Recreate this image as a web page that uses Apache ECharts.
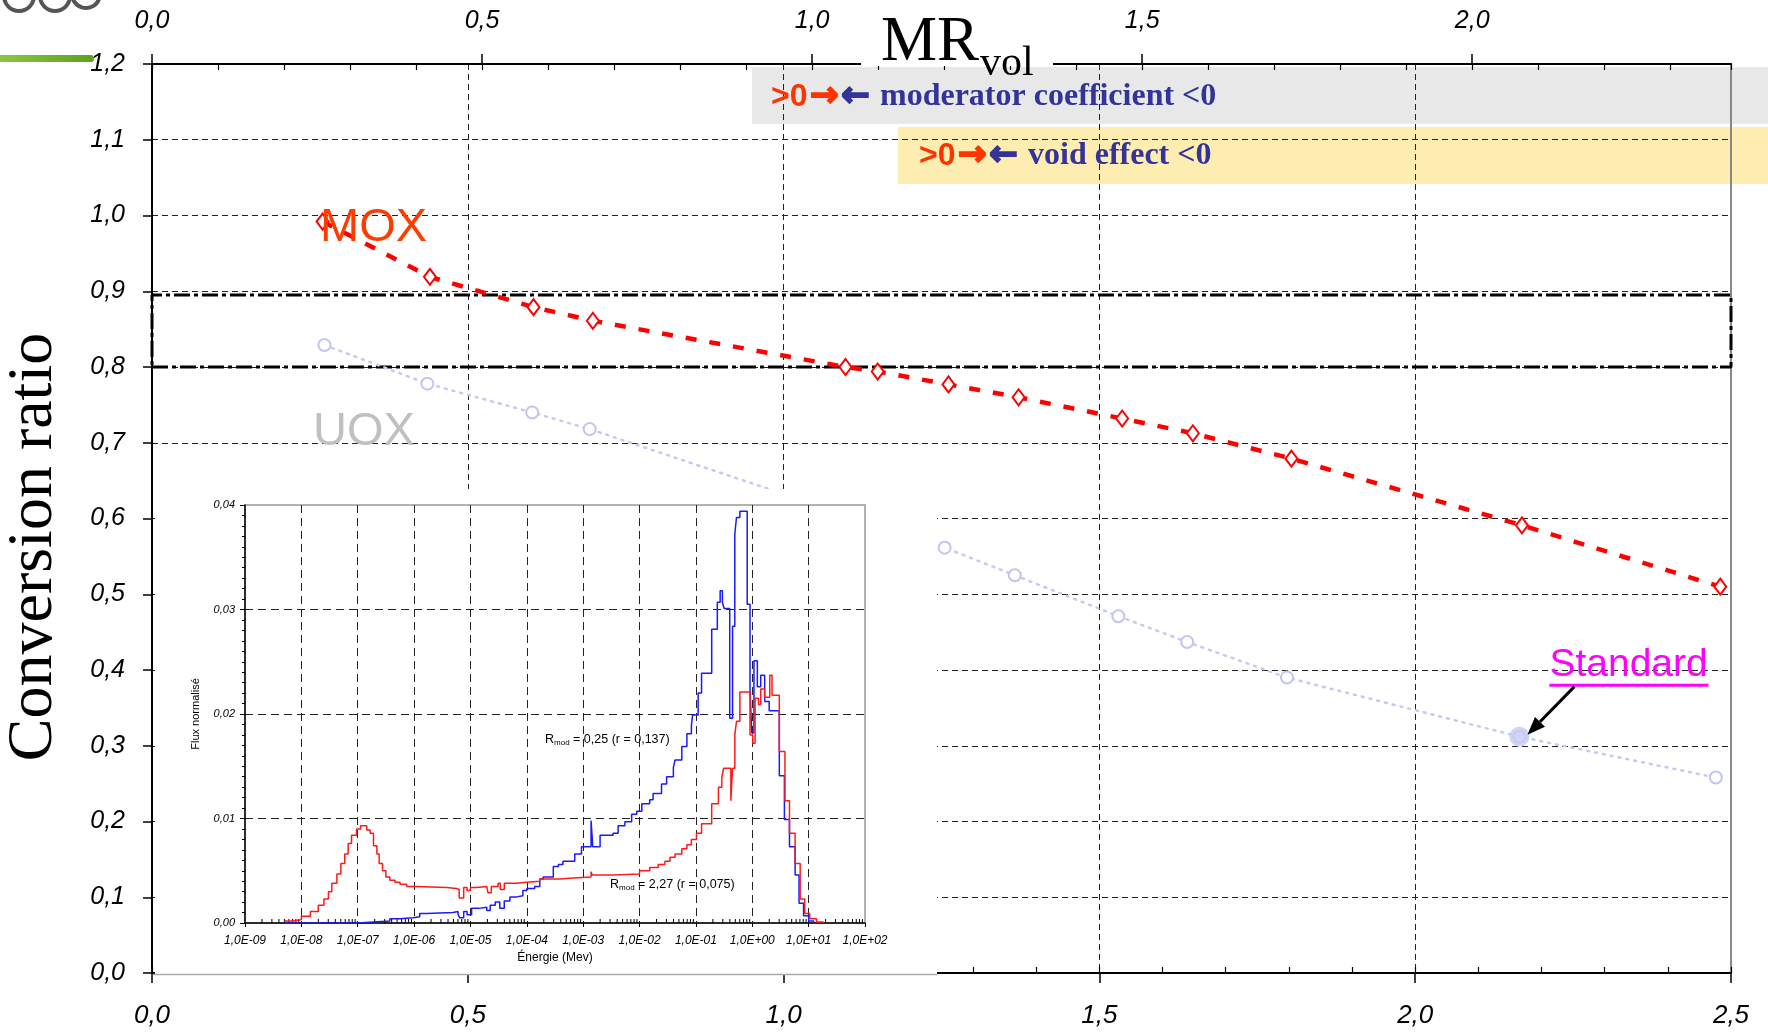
<!DOCTYPE html>
<html>
<head>
<meta charset="utf-8">
<script src="https://cdn.jsdelivr.net/npm/echarts@6/dist/echarts.min.js"></script>
<style>
  html, body { margin: 0; padding: 0; background: #fff; }
  #chart { width: 1768px; height: 1034px; }
</style>
</head>
<body>
<div id="chart"></div>
<script>
// Conversion ratio versus moderation ratio (MR vol) for MOX and UOX lattices
const moxMR = [0.27, 0.44, 0.604, 0.698, 1.098, 1.149, 1.261, 1.372, 1.536, 1.648, 1.804, 2.169, 2.483];
const moxCR = [0.992, 0.919, 0.879, 0.861, 0.800, 0.794, 0.777, 0.760, 0.732, 0.7125, 0.679, 0.591, 0.510];
const uoxMR = [0.273, 0.436, 0.602, 0.693, 1.255, 1.366, 1.530, 1.639, 1.797, 2.165, 2.476];
const uoxCR = [0.829, 0.778, 0.740, 0.718, 0.5615, 0.525, 0.471, 0.437, 0.390, 0.312, 0.258];
const standardIndex = 9;              // reference lattice on the UOX curve
const targetBand = [0.80, 0.895];     // conversion-ratio window (dash-dot frame)
const mrRange = [0, 2.5];

// Neutron spectra (inset): log10 of energy in MeV and normalised flux, step histograms
const energyDecades = [-9, -8, -7, -6, -5, -4, -3, -2, -1, 0, 1, 2];
const rmod227LogE = [-8.30,-8.15,-8.00,-7.84,-7.70,-7.60,-7.52,-7.46,-7.37,-7.30,-7.23,-7.17,-7.11,-7.02,-6.95,-6.84,-6.78,-6.72,-6.66,-6.62,-6.56,-6.50,-6.43,-6.34,-6.25,-6.13,-5.96,-5.42,-5.25,-5.20,-5.12,-5.06,-5.00,-4.89,-4.71,-4.69,-4.63,-4.51,-4.47,-4.40,-4.18,-4.00,-3.77,-3.41,-3.18,-2.86,-2.84,-2.47,-2.00,-1.82,-1.67,-1.55,-1.46,-1.37,-1.25,-1.16,-1.08,-0.99,-0.90,-0.72,-0.60,-0.54,-0.51,-0.38,-0.35,-0.31,-0.28,-0.22,-0.04,0.01,0.05,0.11,0.15,0.22,0.31,0.35,0.48,0.58,0.66,0.76,0.85,0.93,1.02,1.14,1.26];
const rmod227Flux = [0.0002,0.0003,0.00064,0.0011,0.0017,0.0023,0.0030,0.0038,0.0047,0.0057,0.0066,0.0076,0.0084,0.0090,0.0093,0.0089,0.0086,0.0074,0.0066,0.0057,0.0050,0.0044,0.0041,0.0039,0.0037,0.0035,0.0034,0.0033,0.0032,0.0024,0.0034,0.0031,0.0034,0.0035,0.0034,0.0029,0.0035,0.0038,0.0032,0.0038,0.0039,0.0040,0.0042,0.0043,0.0044,0.0049,0.0046,0.0047,0.0050,0.0053,0.0056,0.0059,0.0063,0.0066,0.0071,0.0075,0.0080,0.0086,0.0095,0.0114,0.0130,0.0139,0.0148,0.0117,0.0148,0.0180,0.0193,0.0221,0.0180,0.0172,0.0215,0.0209,0.0224,0.0216,0.0237,0.0218,0.0164,0.0117,0.0086,0.0057,0.0023,0.0009,0.0004,0.0001,0];
const rmod025LogE = [-8.30,-7.00,-6.72,-6.43,-6.25,-6.02,-5.90,-5.78,-5.31,-5.22,-5.19,-5.12,-5.06,-4.98,-4.85,-4.82,-4.71,-4.65,-4.56,-4.48,-4.40,-4.30,-4.18,-4.07,-4.00,-3.86,-3.77,-3.71,-3.53,-3.44,-3.36,-3.15,-3.03,-2.86,-2.83,-2.70,-2.47,-2.38,-2.26,-2.14,-2.05,-1.96,-1.82,-1.76,-1.61,-1.52,-1.40,-1.37,-1.25,-1.16,-1.08,-1.06,-0.96,-0.90,-0.72,-0.62,-0.57,-0.53,-0.50,-0.40,-0.35,-0.31,-0.28,-0.22,-0.09,-0.04,-0.01,0.03,0.09,0.15,0.22,0.30,0.48,0.57,0.66,0.76,0.83,0.91,1.00,1.09];
const rmod025Flux = [0,0.0001,0.0002,0.0004,0.0005,0.0006,0.0009,0.0010,0.0011,0.0008,0.0005,0.0011,0.0008,0.0014,0.0013,0.0015,0.0012,0.0017,0.0020,0.0014,0.0021,0.0025,0.0026,0.0031,0.0033,0.0035,0.0042,0.0044,0.0054,0.0056,0.0059,0.0066,0.0073,0.0098,0.0073,0.0084,0.0086,0.0093,0.0097,0.0104,0.0107,0.0114,0.0118,0.0124,0.0133,0.0140,0.0149,0.0156,0.0169,0.0181,0.0189,0.0199,0.0220,0.0239,0.0281,0.0307,0.0318,0.0307,0.0301,0.0196,0.0284,0.0372,0.0388,0.0394,0.0305,0.0224,0.0182,0.0251,0.0226,0.0237,0.0212,0.0203,0.0141,0.0099,0.0073,0.0046,0.0019,0.0007,0.0002,0];

const pairs = (xs, ys) => xs.map((x, i) => [x, ys[i]]);
const comma1 = v => v.toFixed(1).replace('.', ',');
const comma2 = v => v.toFixed(2).replace('.', ',');
const sciLabel = v => {
  const e = Math.round(v);
  return '1,0E' + (e < 0 ? '-' : '+') + String(Math.abs(e)).padStart(2, '0');
};

// logarithmic minor tick positions (2..9 x 10^d) for the energy axis
const logMinor = [];
energyDecades.slice(0, -1).forEach(d => {
  for (let k = 2; k <= 9; k++) logMinor.push([d + Math.log10(k), 0]);
});

const tickFont = { fontFamily: 'Liberation Sans', fontStyle: 'italic', color: '#000' };
const gridDash = { color: '#222', width: 1, type: [6, 4] };

const chart = echarts.init(document.getElementById('chart'), null, { renderer: 'canvas' });

const option = {
  animation: false,
  backgroundColor: '#fff',
  grid: [
    { left: 152, right: 37, top: 64, bottom: 61, show: false },
    { left: 245, top: 505, width: 620, height: 418, show: true, borderColor: '#999', borderWidth: 1.5, backgroundColor: 'transparent', z: 4 }
  ],
  xAxis: [
    { // MR vol, bottom
      type: 'value', gridIndex: 0, position: 'bottom', min: mrRange[0], max: mrRange[1], interval: 0.5,
      axisLine: { onZero: false, lineStyle: { color: '#000', width: 2 } },
      axisTick: { length: 10, lineStyle: { color: '#000', width: 1.5 } },
      axisLabel: Object.assign({ fontSize: 26, margin: 30, formatter: comma1 }, tickFont),
      splitLine: { show: true, showMinLine: false, showMaxLine: false, lineStyle: gridDash }
    },
    { // bottom minor ticks
      type: 'value', gridIndex: 0, position: 'bottom', min: mrRange[0], max: mrRange[1], interval: 0.1,
      axisLine: { show: false, onZero: false }, axisLabel: { show: false }, splitLine: { show: false },
      axisTick: { inside: true, length: 6, lineStyle: { color: '#000', width: 1.2 } }
    },
    { // secondary MR scale, top
      type: 'value', gridIndex: 0, position: 'top', min: 0, max: 2.392, interval: 0.5,
      axisLine: { onZero: false, lineStyle: { color: '#000', width: 2 } },
      axisTick: { length: 10, lineStyle: { color: '#000', width: 1.5 } },
      axisLabel: Object.assign({ fontSize: 25, margin: 30, formatter: comma1, showMaxLabel: false }, tickFont),
      splitLine: { show: false }
    },
    { // top minor ticks
      type: 'value', gridIndex: 0, position: 'top', min: 0, max: 2.392, interval: 0.1,
      axisLine: { show: false, onZero: false }, axisLabel: { show: false }, splitLine: { show: false },
      axisTick: { inside: true, length: 6, lineStyle: { color: '#000', width: 1.2 } }
    },
    { // inset energy axis (log10 MeV)
      type: 'value', gridIndex: 1, min: energyDecades[0], max: energyDecades[energyDecades.length - 1], interval: 1, z: 5,
      axisLine: { onZero: false, lineStyle: { color: '#000', width: 1.5 } },
      axisTick: { length: 4, lineStyle: { color: '#000', width: 1 } },
      axisLabel: Object.assign({ fontSize: 12, margin: 12, formatter: sciLabel }, tickFont),
      splitLine: { show: true, showMinLine: false, showMaxLine: false, lineStyle: { color: '#222', width: 1, type: [8, 5] } },
      name: 'Énergie (Mev)', nameLocation: 'middle', nameGap: 29,
      nameTextStyle: { fontFamily: 'Liberation Sans', fontSize: 12, color: '#000' }
    }
  ],
  yAxis: [
    { // conversion ratio
      type: 'value', gridIndex: 0, min: 0, max: 1.2, interval: 0.1,
      axisLine: { onZero: false, lineStyle: { color: '#000', width: 2 } },
      axisTick: { length: 9, lineStyle: { color: '#000', width: 1.5 } },
      axisLabel: Object.assign({ fontSize: 25, margin: 27, formatter: comma1 }, tickFont),
      splitLine: { show: true, showMinLine: false, showMaxLine: false, lineStyle: gridDash }
    },
    { // right frame
      type: 'value', gridIndex: 0, position: 'right', min: 0, max: 1.2,
      axisLine: { show: true, onZero: false, lineStyle: { color: '#888', width: 2 } },
      axisTick: { show: false }, axisLabel: { show: false }, splitLine: { show: false }
    },
    { // inset flux
      type: 'value', gridIndex: 1, min: 0, max: 0.04, interval: 0.01, z: 5,
      axisLine: { onZero: false, lineStyle: { color: '#000', width: 1.5 } },
      axisTick: { length: 5, lineStyle: { color: '#000', width: 1 } },
      minorTick: { show: true, splitNumber: 10, length: 3, lineStyle: { color: '#000', width: 1 } },
      axisLabel: Object.assign({ fontSize: 11, margin: 10, formatter: comma2 }, tickFont),
      splitLine: { show: true, showMinLine: false, showMaxLine: false, lineStyle: { color: '#222', width: 1, type: [8, 5] } },
      name: 'Flux normalisé', nameLocation: 'middle', nameGap: 44,
      nameTextStyle: { fontFamily: 'Liberation Sans', fontSize: 11, color: '#000' }
    }
  ],
  series: [
    {
      name: 'target window', type: 'line', xAxisIndex: 0, yAxisIndex: 0, clip: false, silent: true,
      symbol: 'none',
      data: [[mrRange[0], targetBand[0]], [mrRange[1], targetBand[0]], [mrRange[1], targetBand[1]], [mrRange[0], targetBand[1]], [mrRange[0], targetBand[0]]],
      lineStyle: { color: '#000', width: 3, type: [16, 4, 4, 4] }, z: 2
    },
    {
      name: 'UOX', type: 'line', xAxisIndex: 0, yAxisIndex: 0, clip: false,
      data: pairs(uoxMR, uoxCR),
      symbol: 'emptyCircle', symbolSize: 12,
      itemStyle: { color: '#c4c4f2', borderWidth: 2 },
      lineStyle: { color: '#c8c8f4', width: 2.5, type: [2, 6], cap: 'round' }, z: 2
    },
    {
      name: 'Standard', type: 'scatter', xAxisIndex: 0, yAxisIndex: 0,
      data: [[uoxMR[standardIndex], uoxCR[standardIndex]]],
      symbol: 'circle', symbolSize: 20, itemStyle: { color: '#c8c8f4' }, z: 2
    },
    {
      name: 'MOX', type: 'line', xAxisIndex: 0, yAxisIndex: 0, clip: false,
      data: pairs(moxMR, moxCR),
      symbol: 'emptyDiamond', symbolSize: [12, 16],
      itemStyle: { color: '#ff0000', borderWidth: 2 },
      lineStyle: { color: '#ff0000', width: 4.5, type: [11, 13] }, z: 2
    },
    {
      name: 'Rmod 0,25', type: 'line', xAxisIndex: 4, yAxisIndex: 2, step: 'end',
      data: pairs(rmod025LogE, rmod025Flux), showSymbol: false, symbol: 'none',
      lineStyle: { color: '#1a1aff', width: 1.5 }, z: 6
    },
    {
      name: 'Rmod 2,27', type: 'line', xAxisIndex: 4, yAxisIndex: 2, step: 'end',
      data: pairs(rmod227LogE, rmod227Flux), showSymbol: false, symbol: 'none',
      lineStyle: { color: '#ff1a1a', width: 1.5 }, z: 6
    },
    {
      name: 'log minor ticks', type: 'custom', xAxisIndex: 4, yAxisIndex: 2, silent: true, clip: false,
      data: logMinor, z: 6,
      renderItem: (params, api) => {
        const p = api.coord([api.value(0), 0]);
        return { type: 'line', shape: { x1: p[0], y1: p[1], x2: p[0], y2: p[1] - 4 }, style: { stroke: '#000', lineWidth: 1 } };
      }
    }
  ]
};

chart.setOption(option);

// Annotations and decorations
const std = chart.convertToPixel({ xAxisIndex: 0, yAxisIndex: 0 }, [uoxMR[standardIndex], uoxCR[standardIndex]]);
const arrowFrom = [std[0] + 55, std[1] - 50];
const arrowTo = [std[0] + 8, std[1] - 2];
const ang = Math.atan2(arrowTo[1] - arrowFrom[1], arrowTo[0] - arrowFrom[0]);
const headLen = 18, headHalf = 7;
const hx = arrowTo[0] - headLen * Math.cos(ang), hy = arrowTo[1] - headLen * Math.sin(ang);
const head = [
  arrowTo,
  [hx + headHalf * Math.sin(ang), hy - headHalf * Math.cos(ang)],
  [hx - headHalf * Math.sin(ang), hy + headHalf * Math.cos(ang)]
];

const bannerRich = {
  g: { fontFamily: 'Liberation Sans', fontWeight: 'bold', fontSize: 32, fill: '#ff3300', width: 39 },
  ar: { fontFamily: 'DejaVu Sans', fontWeight: 'bold', fontSize: 34, fill: '#ff3300', stroke: '#ff3300', lineWidth: 2, width: 31 },
  ab: { fontFamily: 'DejaVu Sans', fontWeight: 'bold', fontSize: 34, fill: '#333399', stroke: '#333399', lineWidth: 2, width: 39 },
  t: { fontFamily: 'Liberation Serif', fontWeight: 'bold', fontSize: 32, fill: '#333399' }
};
const subRich = {
  r: { fontFamily: 'Liberation Sans', fontSize: 12.5, fill: '#000' },
  s: { fontFamily: 'Liberation Sans', fontSize: 8, fill: '#000', padding: [6, 0, 0, 0] }
};

chart.setOption({
  graphic: [
    // regime banners
    { type: 'rect', shape: { x: 752, y: 67, width: 1016, height: 57 }, style: { fill: '#e8e8e8' }, z: -1 },
    { type: 'rect', shape: { x: 898, y: 127, width: 870, height: 57 }, style: { fill: '#feedb0' }, z: -1 },
    { type: 'text', x: 771, y: 97, z: 10, style: { text: '{g|>0}{ar|→}{ab|←}{t|moderator coefficient <0}', rich: bannerRich, verticalAlign: 'middle' } },
    { type: 'text', x: 919, y: 156, z: 10, style: { text: '{g|>0}{ar|→}{ab|←}{t|void effect <0}', rich: bannerRich, verticalAlign: 'middle' } },
    // axis title on top
    { type: 'rect', shape: { x: 861, y: 50, width: 192, height: 16 }, style: { fill: '#fff' }, z: 9 },
    { type: 'text', x: 881, y: 43, z: 10, style: { text: 'MR', font: '63px "Liberation Serif"', fill: '#000', verticalAlign: 'middle' } },
    { type: 'text', x: 980, y: 64, z: 10, style: { text: 'vol', font: '42px "Liberation Serif"', fill: '#000', verticalAlign: 'middle' } },
    // vertical axis title
    { type: 'text', x: 34, y: 547, rotation: Math.PI / 2, z: 10, style: { text: 'Conversion ratio', font: '64px "Liberation Serif"', fill: '#000', align: 'center', verticalAlign: 'middle' } },
    // curve labels
    { type: 'text', x: 320, y: 228, z: 10, style: { text: 'MOX', font: '47px "Liberation Sans"', fill: '#ff3c00', verticalAlign: 'middle' } },
    { type: 'text', x: 313, y: 432, z: 10, style: { text: 'UOX', font: '47px "Liberation Sans"', fill: '#c0c0c0', verticalAlign: 'middle' } },
    // standard lattice callout
    { type: 'text', x: std[0] + 30, y: std[1] - 71, z: 10, style: { text: 'Standard', font: '39px "Liberation Sans"', fill: '#ff00ff', verticalAlign: 'middle' } },
    { type: 'rect', shape: { x: std[0] + 30, y: std[1] - 53, width: 159, height: 3 }, style: { fill: '#ff00ff' }, z: 10 },
    { type: 'line', shape: { x1: arrowFrom[0], y1: arrowFrom[1], x2: hx, y2: hy }, style: { stroke: '#000', lineWidth: 3 }, z: 10 },
    { type: 'polygon', shape: { points: head }, style: { fill: '#000' }, z: 10 },
    // inset panel background
    { type: 'rect', shape: { x: 155, y: 489, width: 782, height: 485 }, style: { fill: '#fff' }, z: 3 },
    { type: 'line', shape: { x1: 153, y1: 974.5, x2: 937, y2: 974.5 }, style: { stroke: '#aaa', lineWidth: 1.5 }, z: 3 },
    { type: 'text', x: 545, y: 740, z: 7, style: { text: '{r|R}{s|mod}{r| = 0,25 (r = 0,137)}', rich: subRich, verticalAlign: 'middle' } },
    { type: 'text', x: 610, y: 885, z: 7, style: { text: '{r|R}{s|mod}{r| = 2,27 (r = 0,075)}', rich: subRich, verticalAlign: 'middle' } },
    // logo fragment, top left
    { type: 'rect', shape: { x: 0, y: 55, width: 94, height: 7, r: [0, 3, 3, 0] },
      style: { fill: new echarts.graphic.LinearGradient(0, 0, 1, 0, [{ offset: 0, color: '#8cc63f' }, { offset: 1, color: '#5fa01f' }]) }, z: 10 },
    { type: 'arc', shape: { cx: 19, cy: -4, r: 15, startAngle: 0, endAngle: Math.PI }, style: { stroke: '#555', lineWidth: 4, fill: null }, z: 10 },
    { type: 'arc', shape: { cx: 55, cy: -4, r: 15, startAngle: 0, endAngle: Math.PI }, style: { stroke: '#555', lineWidth: 4, fill: null }, z: 10 },
    { type: 'arc', shape: { cx: 86, cy: -6, r: 14, startAngle: Math.PI * 0.1, endAngle: Math.PI * 0.9 }, style: { stroke: '#555', lineWidth: 4, fill: null }, z: 10 }
  ]
});
</script>
</body>
</html>
